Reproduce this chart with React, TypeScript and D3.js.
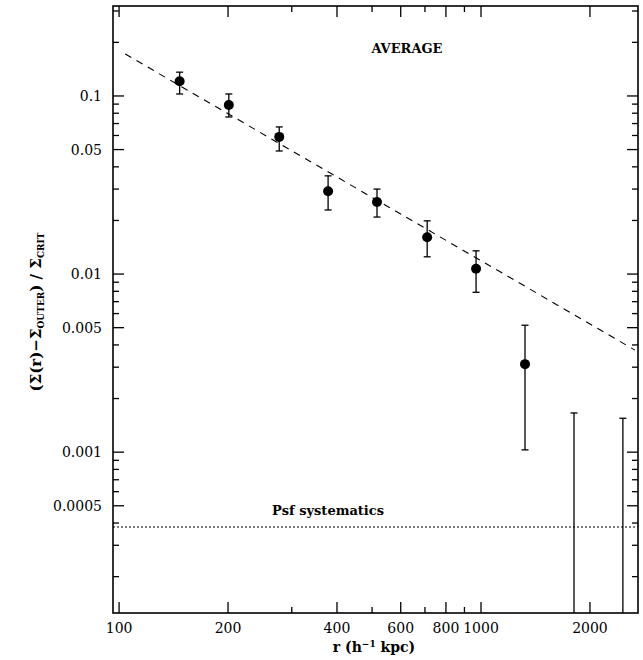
import React from "react";
import * as d3 from "d3";

const radii = [147, 201, 277, 378, 516, 710, 969, 1323];
const values = [0.121, 0.089, 0.0589, 0.0292, 0.0254, 0.0161, 0.0107, 0.00312];
const errHigh = [0.136, 0.1026, 0.067, 0.0356, 0.030, 0.0199, 0.0135, 0.00516];
const errLow = [0.1026, 0.0762, 0.0491, 0.0229, 0.0209, 0.0125, 0.0079, 0.00103];

const limitRadii = [1807, 2466];
const limitTops = [0.00166, 0.00155];

const modelR = [104, 2663];
const modelV = [0.172, 0.00374];

const psfLevel = 0.00038;

const xMajor = [100, 200, 400, 600, 800, 1000, 2000];
const xMinor = [300, 500, 700, 900];
const xLabels = ["100", "200", "400", "600", "800", "1000", "2000"];
const yMajor = [0.1, 0.05, 0.01, 0.005, 0.001, 0.0005];
const yLabels = ["0.1", "0.05", "0.01", "0.005", "0.001", "0.0005"];
const yMinor = [0.3, 0.2, 0.09, 0.08, 0.07, 0.06, 0.04, 0.03, 0.02, 0.009, 0.008, 0.007, 0.006, 0.004, 0.003, 0.002, 0.0009, 0.0008, 0.0007, 0.0006, 0.0004, 0.0003, 0.0002];

const L = 113, R = 638, T = 6, B = 613;
const FONT = "DejaVu Serif";

export default function App() {
  const x = d3.scaleLog().domain([96.2, 2715]).range([L, R]);
  const y = d3.scaleLog().domain([0.000125, 0.32]).range([B, T]);
  const line = d3.line<number>().x((_, i) => x(modelR[i])).y((v) => y(v));
  const MAJ = 11, MIN = 6, CAP = 3.5;
  return (
    <svg width={643} height={660} style={{ position: "absolute", left: 0, top: 0, background: "#fff" }}>
      <defs>
        <clipPath id="plot"><rect x={L} y={T} width={R - L} height={B - T} /></clipPath>
      </defs>
      <g stroke="#000" strokeWidth={1.3}>
        {xMajor.map((v) => (
          <g key={"xM" + v}>
            <line x1={x(v)} x2={x(v)} y1={B} y2={B - MAJ} />
            <line x1={x(v)} x2={x(v)} y1={T} y2={T + MAJ} />
          </g>
        ))}
        {xMinor.map((v) => (
          <g key={"xm" + v}>
            <line x1={x(v)} x2={x(v)} y1={B} y2={B - MIN} />
            <line x1={x(v)} x2={x(v)} y1={T} y2={T + MIN} />
          </g>
        ))}
        {yMajor.map((v) => (
          <g key={"yM" + v}>
            <line x1={L} x2={L + MAJ} y1={y(v)} y2={y(v)} />
            <line x1={R} x2={R - MAJ} y1={y(v)} y2={y(v)} />
          </g>
        ))}
        {yMinor.map((v) => (
          <g key={"ym" + v}>
            <line x1={L} x2={L + MIN} y1={y(v)} y2={y(v)} />
            <line x1={R} x2={R - MIN} y1={y(v)} y2={y(v)} />
          </g>
        ))}
      </g>
      <rect x={L} y={T} width={R - L} height={B - T} fill="none" stroke="#000" strokeWidth={1.6} />
      <g fontFamily={FONT} fontSize={14} fill="#000">
        {xMajor.map((v, i) => (
          <text key={"xl" + v} x={x(v)} y={633} textAnchor="middle">{xLabels[i]}</text>
        ))}
        {yMajor.map((v, i) => (
          <text key={"yl" + v} x={102} y={y(v) + 5} textAnchor="end">{yLabels[i]}</text>
        ))}
      </g>
      <g clipPath="url(#plot)">
        <path d={line(modelV) || ""} fill="none" stroke="#000" strokeWidth={1.1} strokeDasharray="7,6" />
        <line x1={L} x2={R} y1={y(psfLevel)} y2={y(psfLevel)} stroke="#000" strokeWidth={1.1} strokeDasharray="2,2" />
        <g stroke="#000" strokeWidth={1.3}>
          {radii.map((r, i) => (
            <g key={"e" + i}>
              <line x1={x(r)} x2={x(r)} y1={y(errHigh[i])} y2={y(errLow[i])} />
              <line x1={x(r) - CAP} x2={x(r) + CAP} y1={y(errHigh[i])} y2={y(errHigh[i])} />
              <line x1={x(r) - CAP} x2={x(r) + CAP} y1={y(errLow[i])} y2={y(errLow[i])} />
            </g>
          ))}
          {limitRadii.map((r, i) => (
            <g key={"l" + i}>
              <line x1={x(r)} x2={x(r)} y1={y(limitTops[i])} y2={B} />
              <line x1={x(r) - CAP} x2={x(r) + CAP} y1={y(limitTops[i])} y2={y(limitTops[i])} />
            </g>
          ))}
        </g>
        {radii.map((r, i) => (
          <circle key={"c" + i} cx={x(r)} cy={y(values[i])} r={5} fill="#000" />
        ))}
      </g>
      <g fontFamily={FONT} fill="#000" fontWeight="bold">
        <text x={407} y={53} textAnchor="middle" fontSize={13}>AVERAGE</text>
        <text x={328} y={515} textAnchor="middle" fontSize={13}>Psf systematics</text>
        <text x={374} y={652} textAnchor="middle" fontSize={14}>
          r (h<tspan dy={-5} fontSize={9}>−1</tspan><tspan dy={5}> kpc)</tspan>
        </text>
        <text transform="translate(41,312) rotate(-90)" textAnchor="middle" fontSize={15}>
          (Σ(r)−Σ<tspan dy={3} fontSize={9}>OUTER</tspan><tspan dy={-3}>)  /  Σ</tspan><tspan dy={3} fontSize={9}>CRIT</tspan>
        </text>
      </g>
    </svg>
  );
}
